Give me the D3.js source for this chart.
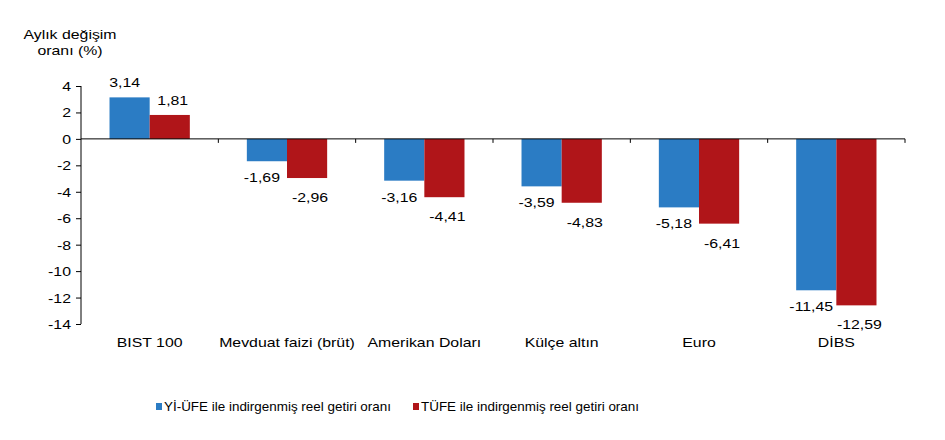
<!DOCTYPE html>
<html>
<head>
<meta charset="utf-8">
<script src="https://cdn.jsdelivr.net/npm/d3@7"></script>
<style>
  body { margin: 0; background: #fff; }
  text { font-family: "Liberation Sans", Arial, sans-serif; fill: #000; }
</style>
</head>
<body>
<div id="chart"></div>
<script>
// data
var categories = ['BIST 100', 'Mevduat faizi (brüt)', 'Amerikan Doları', 'Külçe altın', 'Euro', 'DİBS'];
var yiUfe = [3.14, -1.69, -3.16, -3.59, -5.18, -11.45];
var tufe = [1.81, -2.96, -4.41, -4.83, -6.41, -12.59];
var seriesNames = ['Yİ-ÜFE ile indirgenmiş reel getiri oranı', 'TÜFE ile indirgenmiş reel getiri oranı'];
var yTicks = [4, 2, 0, -2, -4, -6, -8, -10, -12, -14];

var svgWidth = 945;
var svgHeight = 440;
var margin = { top: 86, right: 40, bottom: 116, left: 81 };
var chartWidth = svgWidth - margin.left - margin.right;
var chartHeight = svgHeight - margin.top - margin.bottom;
var colors = ['#2b7cc4', '#b01519'];
var sx = 1.22; // the picture is stretched sideways

var svg = d3.select('#chart')
    .append('svg')
    .attr('width', svgWidth)
    .attr('height', svgHeight);

var chartGroup = svg.append('g')
    .attr('transform', `translate(${margin.left}, ${margin.top})`);

var xScale = d3.scaleBand()
    .domain(categories)
    .range([0, chartWidth]);
var xInner = d3.scaleBand()
    .domain([0, 1])
    .range([0, xScale.bandwidth()])
    .paddingInner(0)
    .paddingOuter(0.71);
var yScale = d3.scaleLinear()
    .domain([-14, 4])
    .range([chartHeight, 0]);

// stretched text helper
function label(g, x, y, str, anchor, size, stretch) {
    g.append('text')
        .attr('transform', `translate(${x}, ${y}) scale(${stretch || sx}, 1)`)
        .attr('text-anchor', anchor)
        .attr('font-size', size)
        .text(str);
}

// bars
var data = categories.map(function(c, i) { return { cat: c, vals: [yiUfe[i], tufe[i]] }; });
var labelShift = [-5, 3];
var labelDrop = [21, 24];
data.forEach(function(d) {
    d.vals.forEach(function(v, j) {
        var x = xScale(d.cat) + xInner(j);
        chartGroup.append('rect')
            .attr('x', x)
            .attr('width', xInner.bandwidth())
            .attr('y', yScale(Math.max(0, v)))
            .attr('height', Math.abs(yScale(v) - yScale(0)))
            .attr('fill', colors[j]);
        var ty = v >= 0 ? yScale(v) - 10 : yScale(v) + labelDrop[j];
        label(chartGroup, x + xInner.bandwidth() / 2 + labelShift[j], ty,
            d3.format('.2f')(v).replace('.', ',').replace('−', '-'), 'middle', 13);
    });
});

// y axis
var leftAxis = d3.axisLeft(yScale).tickValues(yTicks).tickSize(5).tickFormat('');
var yAxisG = chartGroup.append('g').call(leftAxis);
yAxisG.select('.domain').attr('d', `M0,${yScale(4)}V${yScale(-14)}`);
yTicks.forEach(function(t) {
    label(chartGroup, -10, yScale(t) + 5, t, 'end', 13);
});

// zero line with category ticks
var bottomAxis = d3.axisBottom(xScale).tickSize(0).tickFormat('');
var xAxisG = chartGroup.append('g')
    .attr('transform', `translate(0, ${yScale(0)})`)
    .call(bottomAxis);
xAxisG.select('.domain').attr('d', `M0,0H${chartWidth}`);
categories.forEach(function(c) {
    xAxisG.append('line')
        .attr('x1', xScale(c) + xScale.bandwidth())
        .attr('x2', xScale(c) + xScale.bandwidth())
        .attr('y1', 0).attr('y2', 4)
        .attr('stroke', '#000');
});
svg.selectAll('.domain, .tick line').attr('stroke', '#000');

// category labels
categories.forEach(function(c) {
    label(chartGroup, xScale(c) + xScale.bandwidth() / 2, chartHeight + 23, c, 'middle', 13);
});

// y title
label(svg, 70, 39, 'Aylık değişim', 'middle', 13);
label(svg, 70, 55, 'oranı (%)', 'middle', 13);

// legend
var legendX = [156, 413];
seriesNames.forEach(function(n, i) {
    svg.append('rect')
        .attr('x', legendX[i]).attr('y', 403)
        .attr('width', 6).attr('height', 7)
        .attr('fill', colors[i]);
    label(svg, legendX[i] + 8, 411, n, 'start', 12, 1.12);
});
</script>
</body>
</html>
